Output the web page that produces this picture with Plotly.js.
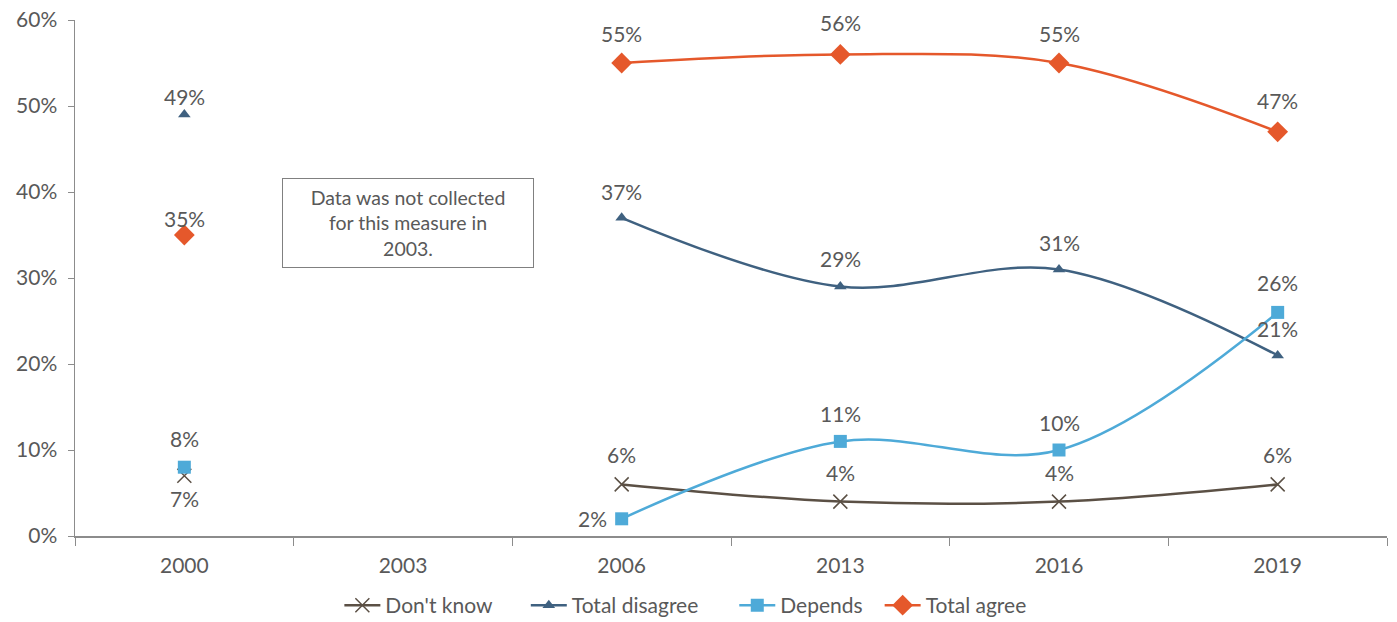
<!DOCTYPE html>
<html>
<head>
<meta charset="utf-8">
<script src="https://cdn.plot.ly/plotly-3.0.1.min.js"></script>
<style>html,body{margin:0;padding:0;background:#fff;}#chart{width:1397px;height:622px;}</style>
</head>
<body>
<div id="chart"></div>
<script>
const years = ["2000", "2003", "2006", "2013", "2016", "2019"];
const dontKnow = [7, null, 6, 4, 4, 6];
const totalDisagree = [49, null, 37, 29, 31, 21];
const depends = [8, null, 2, 11, 10, 26];
const totalAgree = [35, null, 55, 56, 55, 47];
const seriesNames = ["Don't know", "Total disagree", "Depends", "Total agree"];
const noteText = "Data was not collected<br>for this measure in<br>2003.";

const FONT = "Lato, 'Open Sans', sans-serif";
const TXT = "#595959";

// label placement styles (pixel shifts), per series / point
const defs = [
  {name: seriesNames[0], y: dontKnow, color: "#5b5045", symbol: "x-thin-open", size: 14,
   shifts: [[0, -23], null, [0, 30], [0, 29], [0, 29], [0, 30]], legendX: 0.2015, legendId: "legend"},
  {name: seriesNames[1], y: totalDisagree, color: "#3f6180", symbol: "triangle-up", size: 11,
   shifts: [[0, 18], null, [0, 26], [0, 28], [0, 27], [0, 27]], legendX: 0.3436, legendId: "legend2"},
  {name: seriesNames[2], y: depends, color: "#4eaad8", symbol: "square", size: 13,
   shifts: [[0, 29], null, [-29, 0], [0, 28], [0, 28], [0, 30]], legendX: 0.5025, legendId: "legend3"},
  {name: seriesNames[3], y: totalAgree, color: "#e5582b", symbol: "diamond", size: 16,
   shifts: [[0, 17], null, [0, 30], [0, 32], [0, 30], [0, 31]], legendX: 0.6133, legendId: "legend4"}
];

const traces = defs.map(d => ({
  type: "scatter",
  mode: "lines+markers",
  name: d.name,
  legend: d.legendId,
  x: years.slice(),
  y: d.y.slice(),
  connectgaps: false,
  line: {color: d.color, width: 2.5, shape: "spline", smoothing: 1},
  marker: {color: d.color, symbol: d.symbol, size: d.size, line: {color: d.color, width: d.symbol.indexOf("x") === 0 ? 1.5 : 0}},
  hoverinfo: "skip"
}));

const annotations = [];
defs.forEach(d => {
  d.y.forEach((v, i) => {
    if (v === null) return;
    annotations.push({
      x: i, y: v, xref: "x", yref: "y",
      text: v + "%", showarrow: false,
      xshift: d.shifts[i][0], yshift: d.shifts[i][1],
      font: {family: FONT, size: 21, color: TXT}
    });
  });
});
annotations.push({
  x: 1, y: 36.4, xref: "x", yref: "y",
  text: noteText, showarrow: false,
  xshift: 5,
  font: {family: FONT, size: 19.5, color: TXT},
  bordercolor: "#808080", borderwidth: 1,
  width: 248, height: 86, bgcolor: "#fff",
  align: "center", valign: "middle"
});

const layout = {
  width: 1397, height: 622,
  margin: {l: 75, r: 10, t: 20, b: 86, autoexpand: false},
  paper_bgcolor: "#fff", plot_bgcolor: "#fff",
  font: {family: FONT, size: 20, color: TXT},
  showlegend: true,
  xaxis: {
    type: "category",
    range: [-0.5, 5.5],
    tickson: "boundaries", ticks: "outside", ticklen: 8, tickcolor: "#8c8c8c",
    showline: true, linecolor: "#8c8c8c", linewidth: 1.5,
    showgrid: false, zeroline: false, ticklabelstandoff: 10,
    tickfont: {family: FONT, size: 21, color: TXT}, fixedrange: true
  },
  yaxis: {
    range: [0, 60], dtick: 10, ticksuffix: "%",
    ticks: "outside", ticklen: 6, tickcolor: "#8c8c8c",
    showline: true, linecolor: "#8c8c8c", linewidth: 1.5,
    showgrid: false, zeroline: false, ticklabelstandoff: 6,
    tickfont: {family: FONT, size: 21, color: TXT}, fixedrange: true
  },
  annotations: annotations
};
defs.forEach(d => {
  layout[d.legendId] = {orientation: "h", x: d.legendX, xanchor: "left", y: -0.095, yanchor: "top",
    itemwidth: 36, bgcolor: "rgba(0,0,0,0)", font: {family: FONT, size: 21, color: TXT}};
});

Plotly.newPlot("chart", traces, layout, {displayModeBar: false, staticPlot: true});
</script>
</body>
</html>
